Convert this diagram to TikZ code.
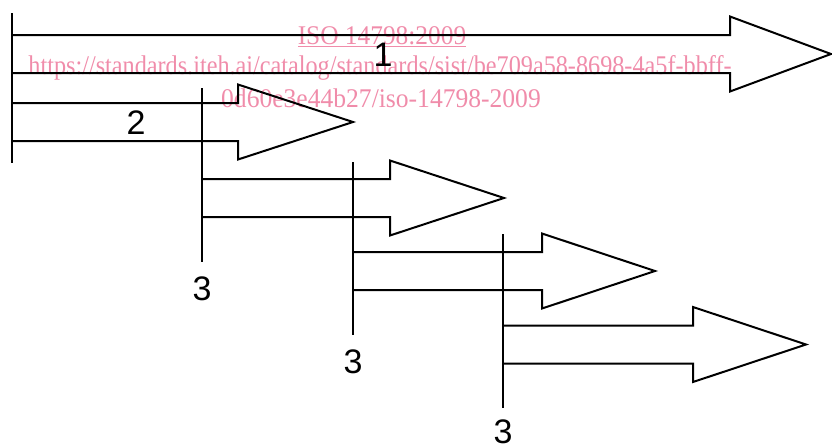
\documentclass[tikz,border=0pt]{standalone}
\usepackage{fontspec}
\usepackage{graphicx}
\setmainfont{Liberation Serif}
\newfontfamily\labelfont{Liberation Sans}
\definecolor{wmpink}{RGB}{240,140,170}
\tikzset{
  outline/.style={draw=black, line width=2pt, line join=miter},
  barline/.style={draw=black, line width=2pt},
  numlabel/.style={font=\labelfont\fontsize{34}{34}\selectfont, inner sep=0pt, text=black},
  watermark/.style={font=\fontsize{27}{27}\selectfont, inner sep=0pt, text=wmpink},
  pics/blockarrow/.style args={#1/#2/#3/#4}{code={
    % #1 start x, #2 centre y, #3 head base x, #4 tip x
    \draw[outline] (#1,#2-19) -- (#3,#2-19) -- (#3,#2-37.5) -- (#4,#2)
      -- (#3,#2+37.5) -- (#3,#2+19) -- (#1,#2+19);
  }}
}
\begin{document}
\begin{tikzpicture}[x=1pt,y=-1pt]
\useasboundingbox (0,0) rectangle (832,447);
% watermark
\node[watermark] (wm1) at (382,37) {\scalebox{0.94}[1]{\underline{ISO 14798:2009}}};
\node[watermark] (wm2) at (380,68) {\scalebox{0.897}[1]{https://standards.iteh.ai/catalog/standards/sist/be709a58-8698-4a5f-bbff-}};
\node[watermark] (wm3) at (381,98) {\scalebox{0.947}[1]{0d60e3e44b27/iso-14798-2009}};
% bars
\coordinate (b1t) at (12,13);  \coordinate (b1b) at (12,163);
\coordinate (b2t) at (202,88); \coordinate (b2b) at (202,262);
\coordinate (b3t) at (353,162); \coordinate (b3b) at (353,335);
\coordinate (b4t) at (503,234); \coordinate (b4b) at (503,408);
\draw[barline] (b1t) -- (b1b);
\draw[barline] (b2t) -- (b2b);
\draw[barline] (b3t) -- (b3b);
\draw[barline] (b4t) -- (b4b);
% arrows
\pic (a1) {blockarrow={12/54/730/831}};
\pic (a2) {blockarrow={12/122/238/353}};
\pic (a3) {blockarrow={202/198/390/504}};
\pic (a4) {blockarrow={353/271/542/655}};
\pic (a5) {blockarrow={503/344.5/693/806}};
% labels
\node[numlabel] (l1) at (383,55) {1};
\node[numlabel] (l2) at (136,123) {2};
\node[numlabel] (l3a) at (202,289) {3};
\node[numlabel] (l3b) at (353,362) {3};
\node[numlabel] (l3c) at (503,432) {3};
\end{tikzpicture}
\end{document}
